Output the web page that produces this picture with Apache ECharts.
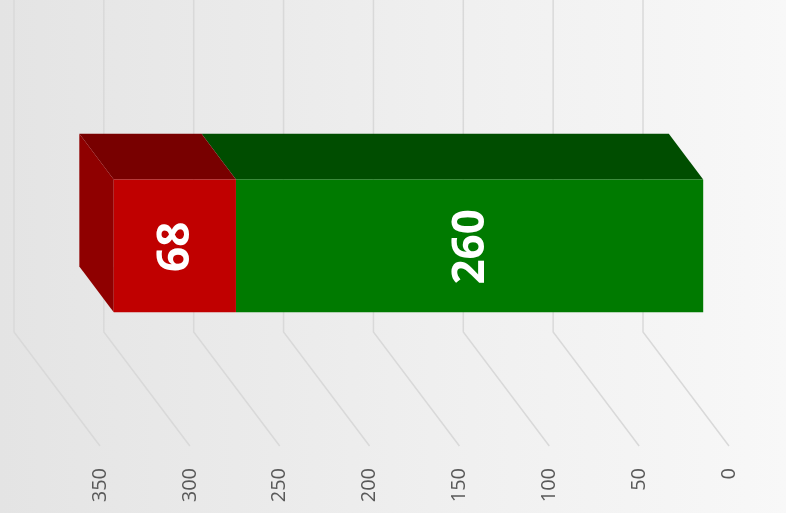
<!DOCTYPE html>
<html>
<head>
<meta charset="utf-8">
<script src="https://cdn.jsdelivr.net/npm/echarts@6/dist/echarts.min.js"></script>
<style>
  html, body { margin: 0; padding: 0; }
  #chart { width: 786px; height: 513px; }
</style>
</head>
<body>
<div id="chart"></div>
<script>
// categories and values
var categories = ['Total'];
var greenValues = [260];
var redValues = [68];
var tickValues = [0, 50, 100, 150, 200, 250, 300, 350];

// 3D depth of the floor (back wall -> front edge), px
var DEPTH_X = 86, DEPTH_Y = 114;
// bar sits between 30% and 70% of the depth
var BAR_BACK = 0.3, BAR_FRONT = 0.7;

var myChart = echarts.init(document.getElementById('chart'));

// stacked segments: [start, end, categoryIndex, value]
function segments(base, vals) {
    return vals.map(function (v, i) { return [base[i], base[i] + v, i, v]; });
}
var greenData = segments([0], greenValues);
var redData = segments(greenValues, redValues);

function barRenderer(front, top, side) {
    return function (params, api) {
        var s = api.value(0), e = api.value(1), c = api.value(2);
        var p0 = api.coord([s, c]);
        var p1 = api.coord([e, c]);
        var h = api.size([0, 1])[1] * 0.4;
        var yTop = p0[1] - h / 2, yBot = p0[1] + h / 2;
        var bx = DEPTH_X * BAR_BACK, by = DEPTH_Y * BAR_BACK;
        var fx = DEPTH_X * BAR_FRONT, fy = DEPTH_Y * BAR_FRONT;
        // axis is inverse, so the end value is the left edge
        var xl = Math.min(p0[0], p1[0]), xr = Math.max(p0[0], p1[0]);
        var children = [];
        // top face
        children.push({
            type: 'polygon',
            shape: { points: [[xl + bx, yTop + by], [xr + bx, yTop + by], [xr + fx, yTop + fy], [xl + fx, yTop + fy]] },
            style: { fill: top }
        });
        // left side face (outermost segment only)
        if (side) {
            children.push({
                type: 'polygon',
                shape: { points: [[xl + bx, yTop + by], [xl + fx, yTop + fy], [xl + fx, yBot + fy], [xl + bx, yBot + by]] },
                style: { fill: side }
            });
        }
        // front face
        children.push({
            type: 'rect',
            shape: { x: xl + fx, y: yTop + fy, width: xr - xl, height: yBot - yTop },
            style: { fill: front }
        });
        children.push({
            type: 'text',
            x: (xl + xr) / 2 + fx + 2,
            y: p0[1] + fy + 1,
            rotation: Math.PI / 2,
            style: {
                text: String(api.value(3)),
                fill: '#ffffff',
                font: 'bold 44px "Open Sans"',
                align: 'center',
                verticalAlign: 'middle'
            }
        });
        return { type: 'group', children: children };
    };
}

var option = {
    animation: false,
    backgroundColor: {
        type: 'linear', x: 0, y: 0, x2: 1, y2: 0,
        colorStops: [{ offset: 0, color: '#e4e4e4' }, { offset: 1, color: '#f8f8f8' }]
    },
    grid: [
        // back wall
        { left: 14, right: 143, top: 0, bottom: 181 },
        // front floor edge, only for labels
        { left: 100, right: 57, top: 0, bottom: 67 }
    ],
    xAxis: [
        { gridIndex: 0, type: 'value', inverse: true, min: 0, max: 350, interval: 50,
          axisLine: { show: false }, axisTick: { show: false }, axisLabel: { show: false },
          splitLine: { show: false } },
        { gridIndex: 1, type: 'value', inverse: true, min: 0, max: 350, interval: 50,
          axisLine: { show: false }, axisTick: { show: false }, splitLine: { show: false },
          axisLabel: { rotate: 90, margin: 22, color: '#595959', fontSize: 20, fontFamily: 'Open Sans' } }
    ],
    yAxis: [
        { gridIndex: 0, type: 'category', data: categories, show: false },
        { gridIndex: 1, type: 'category', data: categories, show: false }
    ],
    series: [
        {
            // grid lines: back wall vertical + floor diagonal
            type: 'custom',
            xAxisIndex: 0, yAxisIndex: 0,
            silent: true,
            data: tickValues.map(function (v) { return [v, 0]; }),
            renderItem: function (params, api) {
                var cs = params.coordSys;
                var x = api.coord([api.value(0), 0])[0];
                var yb = cs.y + cs.height;
                return {
                    type: 'polyline',
                    shape: { points: [[x, cs.y], [x, yb], [x + DEPTH_X, yb + DEPTH_Y]] },
                    style: { stroke: '#d9d9d9', lineWidth: 1.5, fill: null }
                };
            },
            z: 1
        },
        {
            name: 'Green',
            type: 'custom',
            xAxisIndex: 0, yAxisIndex: 0,
            data: greenData,
            renderItem: barRenderer('#007a00', '#004d00', null),
            z: 2
        },
        {
            name: 'Red',
            type: 'custom',
            xAxisIndex: 0, yAxisIndex: 0,
            data: redData,
            renderItem: barRenderer('#c00000', '#780000', '#8f0000'),
            z: 3
        }
    ]
};
myChart.setOption(option);
</script>
</body>
</html>
